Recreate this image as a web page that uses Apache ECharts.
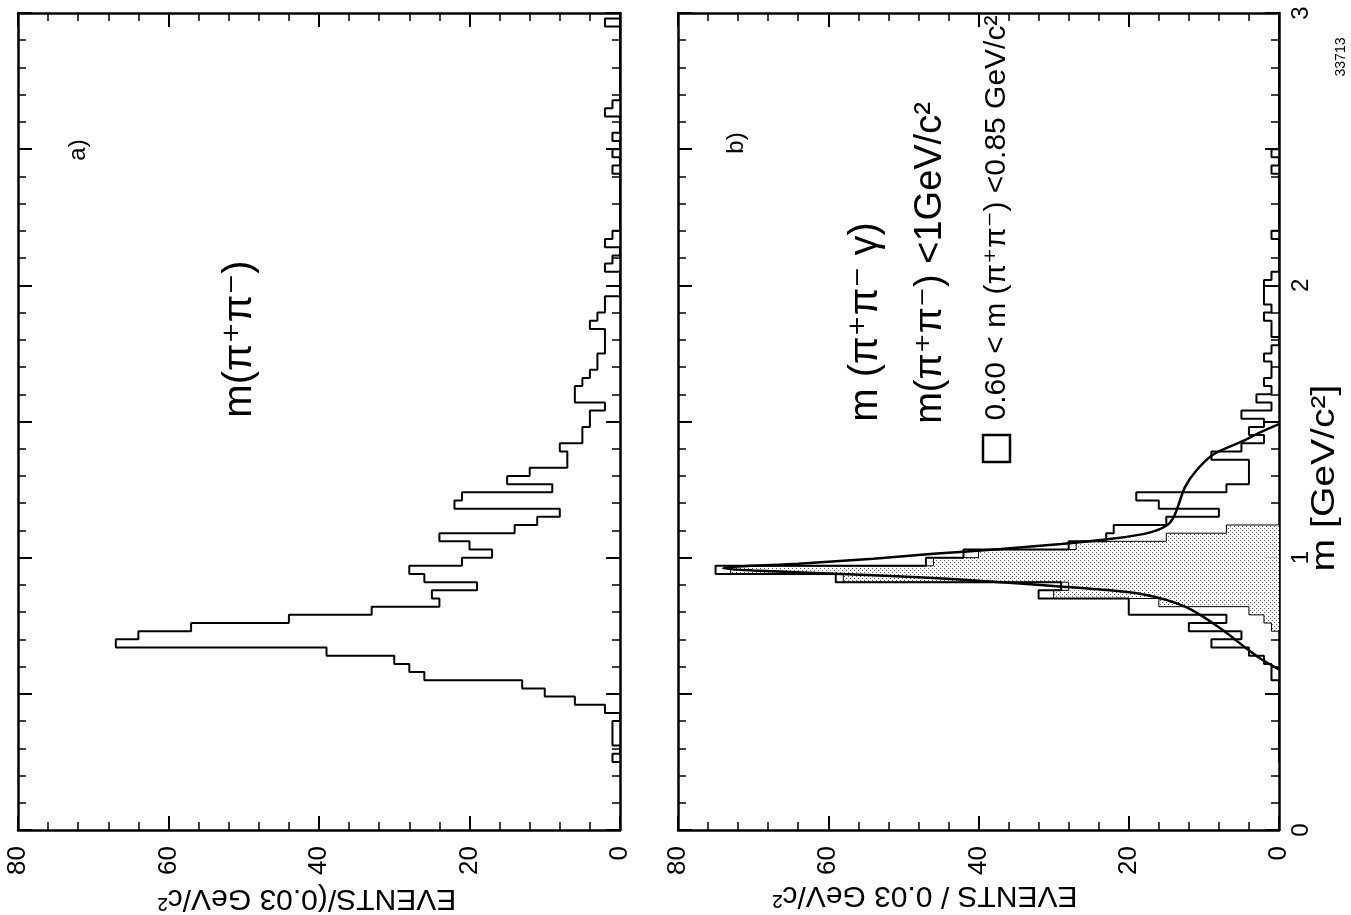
<!DOCTYPE html>
<html lang="en">
<head>
<meta charset="UTF-8" />
<title>m(π+π-) and m(π+π-γ)</title>
<script src="https://cdn.jsdelivr.net/npm/echarts@6/dist/echarts.min.js"></script>
<style>
    html, body { margin: 0; padding: 0; background: #fff; }
    #main { width: 1351px; height: 915px; }
</style>
</head>
<body>
<div id="main"></div>
<script type="text/javascript">
// histogram bins: 0.03 GeV/c^2 wide, first bin starts at 0.25
var binStart = 0.25;
var binWidth = 0.03;

// a) m(pi+ pi-), events per bin
var countsA = [1, 0, 1, 1, 1, 0, 2, 6, 10, 13,
               26, 28, 30, 39, 67, 64, 57, 44, 33, 24,
               25, 19, 26, 28, 21, 17, 20, 24, 14, 11,
               8, 22, 21, 9, 15, 12, 7, 7, 8, 5,
               5, 4, 4, 2, 6, 6, 5, 4, 3, 3,
               2, 2, 2, 4, 3, 2, 2, 0, 0, 0,
               2, 1, 0, 2, 1, 0, 0, 0, 0, 0,
               0, 0, 1, 0, 1, 0, 1, 0, 0, 2,
               1, 0, 0, 0, 0, 0, 0, 0, 0, 0,
               2, 0];

// b) m(pi+ pi- gamma), m(pi+pi-) < 1 GeV, all events
var countsB = [0, 0, 0, 0, 0, 0, 0, 0, 0, 0,
               1, 1, 2, 4, 9, 5, 12, 7, 20, 20,
               32, 29, 59, 75, 47, 42, 28, 23, 22, 15,
               8, 16, 19, 7, 4, 4, 4, 9, 5, 2,
               4, 2, 5, 1, 3, 1, 2, 1, 1, 2,
               1, 0, 1, 1, 2, 1, 2, 2, 2, 1,
               0, 0, 0, 0, 1, 0, 0, 0, 0, 0,
               0, 0, 1, 0, 1, 0, 0, 0, 0, 0,
               0, 0, 0, 0, 0, 0, 0, 0, 0, 0,
               0, 0];

// b) shaded: 0.60 < m(pi+pi-) < 0.85, first bin at 0.73
var shadedStart = 0.73;
var shadedB = [1, 2, 4, 16, 30, 28, 58, 73, 46, 40, 27, 15, 7];

// b) fitted curve
var fitMass   = [0.59, 0.63, 0.67, 0.71, 0.75, 0.79, 0.82, 0.845, 0.865, 0.88, 0.896, 0.912,
                 0.928, 0.942, 0.953, 0.961, 0.968, 0.978, 0.996, 1.014, 1.032, 1.05, 1.07,
                 1.09, 1.117, 1.15, 1.2, 1.26, 1.32, 1.378, 1.426, 1.46, 1.49];
var fitEvents = [0, 2.5, 4.5, 6.3, 8.3, 10.5, 12.5, 15, 18, 22.5, 30, 38,
                 48, 60, 70, 74, 72, 64, 54, 46, 37, 29, 22,
                 17.5, 15, 14, 13.3, 12.5, 11, 8.8, 5, 2.5, 0];

var FONT = '"Liberation Sans", "DejaVu Sans", sans-serif';

function edge(start, i) {
    return +(start + i * binWidth).toFixed(3);
}

// outline of a histogram, drawn as a closed staircase from the zero line
function stepLine(counts, start) {
    var pts = [[0, edge(start, 0)]];
    for (var i = 0; i < counts.length; i++) {
        pts.push([counts[i], edge(start, i)], [counts[i], edge(start, i + 1)]);
    }
    pts.push([0, edge(start, counts.length)]);
    return pts;
}

function barData(counts, start) {
    var d = [];
    for (var i = 0; i < counts.length; i++) {
        d.push([counts[i], edge(start, i), edge(start, i + 1)]);
    }
    return d;
}

// stipple used for the shaded histogram
var dots = document.createElement('canvas');
dots.width = 4; dots.height = 4;
var g = dots.getContext('2d');
g.fillStyle = '#fff'; g.fillRect(0, 0, 4, 4);
g.fillStyle = '#555'; g.fillRect(0, 0, 1, 1); g.fillRect(2, 2, 1, 1);
var stipple = { image: dots, repeat: 'repeat' };

function eventAxis(gridIndex, position, showLabel) {
    return {
        type: 'value', gridIndex: gridIndex, position: position,
        min: 0, max: 80, interval: 20, inverse: true,
        axisLine: { show: true, onZero: false, lineStyle: { color: '#000', width: 2.5 } },
        axisTick: { show: true, inside: true, length: 14, lineStyle: { color: '#000', width: 2 } },
        minorTick: { show: true, splitNumber: 5, length: 8, lineStyle: { color: '#000', width: 1.5 } },
        splitLine: { show: false },
        axisLabel: { show: showLabel, rotate: 90, margin: 16, color: '#000', fontSize: 26, fontFamily: FONT }
    };
}

function massAxis(gridIndex, position, showLabel) {
    return {
        type: 'value', gridIndex: gridIndex, position: position,
        min: 0, max: 3, interval: 0.5,
        axisLine: { show: true, onZero: false, lineStyle: { color: '#000', width: 2.5 } },
        axisTick: { show: true, inside: true, length: 14, lineStyle: { color: '#000', width: 2 } },
        minorTick: { show: true, splitNumber: 5, length: 8, lineStyle: { color: '#000', width: 1.5 } },
        splitLine: { show: false },
        axisLabel: {
            show: showLabel, rotate: 90, margin: 10, color: '#000', fontSize: 24, fontFamily: FONT,
            formatter: function (v) { return Number.isInteger(v) ? String(v) : ''; }
        }
    };
}

function outline(data, xi, yi, z, w) {
    return {
        type: 'line', xAxisIndex: xi, yAxisIndex: yi, data: data,
        symbol: 'none', silent: true, z: z,
        lineStyle: { color: '#000', width: w }
    };
}

function rotText(x, y, rot, text, size, sx) {
    return {
        type: 'text', x: x, y: y, rotation: rot, scaleX: sx || 1,
        style: { text: text, fill: '#000', fontSize: size, fontFamily: FONT, align: 'center', verticalAlign: 'middle' }
    };
}

var fitData = fitMass.map(function (m, i) { return [fitEvents[i], m]; });

var myChart = echarts.init(document.getElementById('main'));
var R = Math.PI / 2;

var option = {
    animation: false,
    backgroundColor: '#fff',
    grid: [
        { left: 18, right: 731, top: 13, bottom: 85, containLabel: false },
        { left: 678, right: 72, top: 13, bottom: 85, containLabel: false }
    ],
    xAxis: [
        eventAxis(0, 'bottom', true), eventAxis(0, 'top', false),
        eventAxis(1, 'bottom', true), eventAxis(1, 'top', false)
    ],
    yAxis: [
        massAxis(0, 'right', false), massAxis(0, 'left', false),
        massAxis(1, 'right', true), massAxis(1, 'left', false)
    ],
    series: [
        outline(stepLine(countsA, binStart), 0, 0, 3, 2),
        {
            type: 'custom', xAxisIndex: 2, yAxisIndex: 2, silent: true, z: 1,
            data: barData(shadedB, shadedStart),
            encode: { x: 0, y: [1, 2] },
            renderItem: function (params, api) {
                var top = api.coord([api.value(0), api.value(2)]);
                var base = api.coord([0, api.value(1)]);
                return {
                    type: 'rect',
                    shape: { x: top[0], y: top[1], width: base[0] - top[0], height: base[1] - top[1] },
                    style: { fill: stipple }
                };
            }
        },
        outline(stepLine(shadedB, shadedStart), 2, 2, 2, 1),
        outline(stepLine(countsB, binStart), 2, 2, 3, 2),
        {
            type: 'line', xAxisIndex: 2, yAxisIndex: 2, data: fitData,
            symbol: 'none', smooth: 0.3, silent: true, z: 4,
            lineStyle: { color: '#000', width: 2.5 }
        }
    ],
    graphic: [
        rotText(78, 150, R, 'a)', 24),
        rotText(736, 143, R, 'b)', 24),
        rotText(240, 339, R, 'm(π⁺π⁻)', 40),
        rotText(866, 322, R, 'm (π⁺π⁻ γ)', 40),
        rotText(931, 263, R, 'm(π⁺π⁻) <1GeV/c²', 38),
        rotText(997, 218, R, '0.60 < m (π⁺π⁻) <0.85 GeV/c²', 30),
        {
            type: 'rect', shape: { x: 983, y: 435, width: 27, height: 27 },
            style: { fill: '#fff', stroke: '#000', lineWidth: 2.5 }
        },
        rotText(307, 898, Math.PI, 'EVENTS/(0.03 GeV/c²', 30),
        rotText(925, 895, Math.PI, 'EVENTS / 0.03 GeV/c²', 30),
        rotText(1325, 478, R, 'm [GeV/c²]', 34, 1.15),
        rotText(1341, 57, R, '33713', 14)
    ]
};
myChart.setOption(option);
</script>
</body>
</html>
